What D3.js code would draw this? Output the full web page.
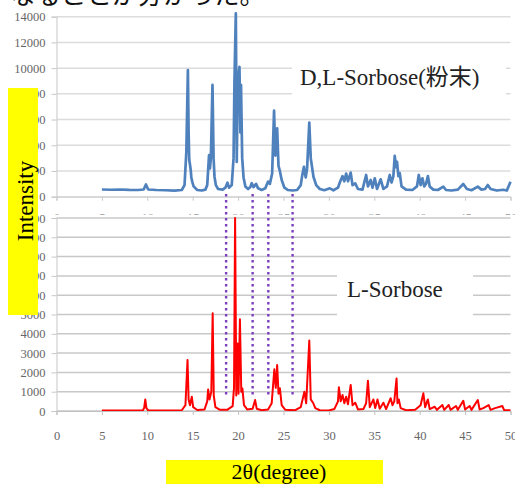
<!DOCTYPE html>
<html>
<head>
<meta charset="utf-8">
<script src="https://cdn.jsdelivr.net/npm/d3@7"></script>
<style>
body{margin:0;background:#fff;}
svg{display:block;}
</style>
</head>
<body>
<svg id="graph"></svg>
<script>
// peak lists: [2theta, intensity]
var dlSorbose=[[5,560],[6,540],[7,560],[8,530],[9,520],[9.6,560],[9.85,950],[10.1,560],[11,520],[12,500],[13,480],[13.8,520],[14.1,900],[14.3,3500],[14.47,9850],[14.55,5000],[14.62,2860],[14.7,2500],[14.78,2080],[14.85,1500],[14.95,1170],[15.1,800],[15.5,520],[16,480],[16.4,550],[16.6,900],[16.8,3240],[16.9,2200],[17.0,3000],[17.18,8690],[17.3,3000],[17.4,1560],[17.55,900],[17.8,600],[18.3,550],[18.6,700],[18.83,1090],[19.0,700],[19.3,900],[19.5,3000],[19.6,9000],[19.75,14260],[19.85,2700],[19.95,8000],[20.05,9500],[20.15,10100],[20.25,5000],[20.32,8700],[20.45,3000],[20.6,1500],[20.8,800],[21.1,600],[21.35,750],[21.5,1050],[21.7,750],[21.98,1000],[22.2,650],[22.6,520],[23.0,650],[23.3,1180],[23.5,1000],[23.75,1800],[23.96,6690],[24.1,3200],[24.3,5320],[24.45,2400],[24.6,2000],[24.8,1300],[25.1,700],[25.5,520],[26,480],[26.5,520],[26.9,900],[27.05,1600],[27.25,2330],[27.45,1500],[27.6,2200],[27.84,5760],[28.0,3000],[28.3,1550],[28.6,900],[29,600],[29.5,500],[30.1,650],[30.5,500],[31,700],[31.2,1100],[31.5,1600],[31.7,1200],[31.9,1800],[32.1,1200],[32.4,1870],[32.6,900],[32.9,1040],[33.2,600],[33.7,550],[34.1,1690],[34.3,800],[34.6,1300],[34.8,700],[35.05,1430],[35.3,600],[35.7,1350],[36.0,600],[36.4,800],[36.7,1690],[36.9,1100],[37.1,1600],[37.25,3170],[37.4,2300],[37.5,2720],[37.65,1600],[37.8,1840],[38.0,800],[38.5,550],[39.2,520],[39.7,800],[39.9,1690],[40.1,900],[40.3,1430],[40.5,800],[40.7,1000],[40.9,1610],[41.1,800],[41.5,550],[42,520],[42.6,780],[42.9,520],[43.5,480],[44.2,550],[44.8,990],[45.2,600],[45.7,500],[46.4,780],[46.8,550],[47.2,600],[47.5,910],[47.8,600],[48.5,480],[49.2,540],[49.6,480],[50,1170]];

var lSorbose=[[5,30],[7,20],[9.5,30],[9.65,150],[9.78,600],[9.9,150],[10.1,30],[12,20],[13.8,40],[14.2,300],[14.43,2640],[14.55,600],[14.7,300],[14.9,740],[15.05,200],[15.5,50],[16.3,80],[16.6,500],[16.7,1120],[16.85,600],[17.05,1000],[17.2,5060],[17.32,800],[17.5,200],[18,60],[18.8,60],[19.4,250],[19.55,1200],[19.67,10000],[19.8,800],[19.95,3500],[20.05,900],[20.2,4750],[20.35,1000],[20.47,1170],[20.65,300],[21,80],[21.6,120],[21.87,570],[22.05,120],[22.6,40],[23.3,80],[23.7,400],[23.99,2160],[24.15,1200],[24.3,2380],[24.45,900],[24.6,1180],[24.8,300],[25.2,60],[26.3,40],[26.9,200],[27.3,1000],[27.5,400],[27.84,3650],[28.0,600],[28.25,430],[28.5,150],[29,40],[30,30],[30.6,100],[31.0,500],[31.1,1230],[31.3,500],[31.5,830],[31.7,400],[31.9,740],[32.1,350],[32.4,1350],[32.6,300],[32.9,430],[33.2,80],[33.8,100],[34.1,400],[34.3,1570],[34.5,200],[34.9,600],[35.1,150],[35.35,600],[35.6,120],[36.0,430],[36.3,100],[36.8,660],[37.0,300],[37.2,500],[37.45,1690],[37.55,400],[37.7,600],[37.9,150],[38.5,40],[39.5,60],[40.1,300],[40.4,920],[40.6,200],[40.9,600],[41.1,100],[41.65,220],[41.9,60],[42.5,310],[42.7,60],[43.2,310],[43.4,60],[44.0,260],[44.2,60],[44.8,530],[45.0,80],[45.5,260],[45.7,60],[46.4,570],[46.6,80],[47.0,150],[47.6,310],[47.8,60],[48.3,150],[49.1,260],[49.3,50],[50,40]];

var xTicks=[0,5,10,15,20,25,30,35,40,45,50];
var topYTicks=[0,2000,4000,6000,8000,10000,12000,14000];
var botYTicks=[0,1000,2000,3000,4000,5000,6000,7000,8000,9000,10000];
var markLines=[18.68,21.6,23.33,26.0];

var screen={width:515,height:484};
var svg=d3.select("#graph")
  .attr("width",screen.width)
  .attr("height",screen.height);

var xScale=d3.scaleLinear().domain([0,50]).range([56.5,510.5]);
var yTop=d3.scaleLinear().domain([0,14000]).range([196.7,16.7]);
var yBot=d3.scaleLinear().domain([0,10000]).range([411,218]);

var tickFont="'Liberation Serif', serif";
var fmt=d3.format("d");

// clip so the top chart's x labels are cut like in the picture
svg.append("clipPath").attr("id","topclip")
  .append("rect").attr("x",0).attr("y",0).attr("width",515).attr("height",215);

var drawPanel=function(g,yScale,yTicks,data,color,width,gridColor)
{
  g.selectAll(".grid")
    .data(yTicks)
    .enter()
    .append("line")
    .attr("x1",xScale(0)).attr("x2",xScale(50))
    .attr("y1",function(d){return yScale(d)})
    .attr("y2",function(d){return yScale(d)})
    .attr("stroke",gridColor)
    .attr("stroke-width",1.5);

  var yAxis=d3.axisLeft(yScale).tickValues(yTicks).tickFormat(fmt).tickSize(5).tickPadding(6);
  var ya=g.append("g").attr("transform","translate("+xScale(0)+",0)").call(yAxis);
  ya.select(".domain").attr("stroke","#d0d0d0").attr("stroke-width",1.2);
  ya.selectAll(".tick line").attr("stroke","#c8c8c8");
  ya.selectAll("text").attr("fill","#666").style("font-family",tickFont).style("font-size","12.5px");

  var line=d3.line()
    .x(function(d){return xScale(d[0])})
    .y(function(d){return yScale(d[1])});
  g.append("path")
    .datum(data)
    .attr("d",line)
    .attr("fill","none")
    .attr("stroke",color)
    .attr("stroke-width",width)
    .attr("stroke-linejoin","round");
};

// top panel
var gTop=svg.append("g");
drawPanel(gTop,yTop,topYTicks,dlSorbose,"#4f81bd",2.7,"#dcdcdc");
var xaTop=gTop.append("g").attr("clip-path","url(#topclip)")
  .append("g")
  .attr("transform","translate(0,"+yTop(0)+")")
  .call(d3.axisBottom(xScale).tickValues(xTicks).tickSize(4).tickPadding(12));
xaTop.select(".domain").attr("stroke","#d0d0d0");
xaTop.selectAll(".tick line").attr("stroke","#c8c8c8");
xaTop.selectAll("text").attr("fill","#aaa").style("font-family",tickFont).style("font-size","12.5px");

// bottom panel
var gBot=svg.append("g");
drawPanel(gBot,yBot,botYTicks,lSorbose,"#ff0000",2,"#c8c8c8");
var xaBot=gBot.append("g")
  .attr("transform","translate(0,"+yBot(0)+")")
  .call(d3.axisBottom(xScale).tickValues(xTicks).tickSize(4).tickPadding(16));
xaBot.select(".domain").attr("stroke","#c0c0c0");
xaBot.selectAll(".tick line").attr("stroke","#c0c0c0");
xaBot.selectAll("text").attr("fill","#666").style("font-family",tickFont).style("font-size","12.5px");

// series labels on white boxes
svg.append("rect").attr("x",292).attr("y",56).attr("width",214).attr("height",48).attr("fill","#fff");
svg.append("text").attr("x",300).attr("y",85)
  .style("font-family","'Liberation Serif', 'Noto Sans CJK JP', serif").style("font-size","23px")
  .attr("fill","#222")
  .text("D,L-Sorbose(粉末)");

svg.append("rect").attr("x",337).attr("y",262).attr("width",136).attr("height",62).attr("fill","#fff");
svg.append("text").attr("x",347).attr("y",297)
  .style("font-family","'Liberation Serif', serif").style("font-size","23px")
  .attr("fill","#222")
  .text("L-Sorbose");

// dotted reference lines
svg.selectAll(".mark")
  .data(markLines)
  .enter()
  .append("line")
  .attr("x1",function(d){return xScale(d)})
  .attr("x2",function(d){return xScale(d)})
  .attr("y1",194).attr("y2",398)
  .attr("stroke","#7b3fbf")
  .attr("stroke-width",2.4)
  .attr("stroke-dasharray","2.4,3.6");

// yellow axis title boxes
svg.append("rect").attr("x",8).attr("y",88).attr("width",30).attr("height",227).attr("fill","#ffff00");
svg.append("text")
  .attr("transform","translate(33,201) rotate(-90)")
  .attr("text-anchor","middle")
  .style("font-family","'Liberation Serif', serif").style("font-size","23px")
  .attr("fill","#000")
  .text("Intensity");

svg.append("rect").attr("x",166).attr("y",460).attr("width",217).attr("height",24).attr("fill","#ffff00");
svg.append("text")
  .attr("x",279).attr("y",479)
  .attr("text-anchor","middle")
  .style("font-family","'Liberation Serif', serif").style("font-size","22px")
  .attr("fill","#000")
  .text("2θ(degree)");

// caption cut off at the top
svg.append("text")
  .attr("x",10).attr("y",4)
  .style("font-family","'Noto Sans CJK JP', sans-serif").style("font-size","25.5px")
  .attr("fill","#111")
  .text("なることが分かった。");
</script>
</body>
</html>
